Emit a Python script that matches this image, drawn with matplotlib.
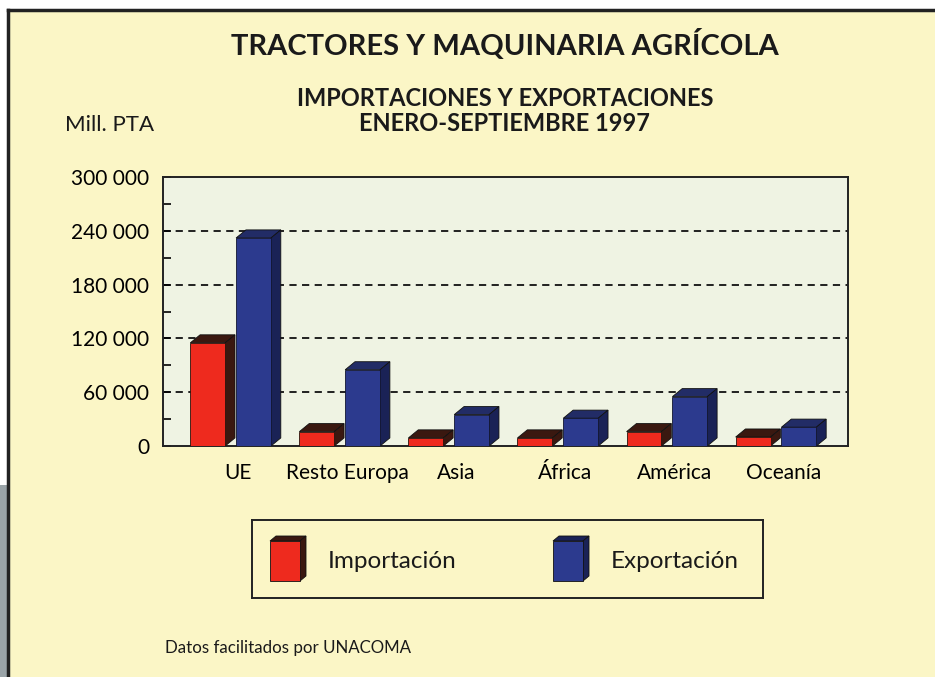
import matplotlib

matplotlib.use("Agg")
import matplotlib.pyplot as plt
from matplotlib.patches import Polygon, Rectangle
from matplotlib.ticker import FuncFormatter, MultipleLocator
import numpy as np

plt.rcParams["font.family"] = ["Lato", "DejaVu Sans"]

# data (Mill. PTA)
regions = ["UE", "Resto Europa", "Asia", "África", "América", "Oceanía"]
importacion = [115000, 16000, 9000, 9000, 16000, 10000]
exportacion = [232000, 85000, 35000, 31000, 55000, 21000]

BG = "#fbf6c6"
PLOT_BG = "#eff3e3"
RED, RED_DARK = "#ee2a1e", "#3a1810"
BLUE, BLUE_SIDE, BLUE_TOP = "#2c3a8e", "#1a2256", "#222c66"

fig = plt.figure(figsize=(9.35, 6.77), dpi=100, facecolor="white")

# yellow page with black frame on top/left
fig.patches.append(Rectangle((8 / 935, 0), 1, 1 - 10 / 677, transform=fig.transFigure,
                             facecolor=BG, edgecolor="none", zorder=-2))
fig.add_artist(plt.Line2D([8 / 935, 1], [1 - 10 / 677] * 2, color="#222", lw=2.5))
fig.add_artist(plt.Line2D([8 / 935] * 2, [0, 1 - 10 / 677], color="#222", lw=2.5))
fig.patches.append(Rectangle((0, 0), 7 / 935, 1 - 485 / 677, transform=fig.transFigure,
                             facecolor="#9aa4a8", edgecolor="none", zorder=-2))

ax = fig.add_axes([163 / 935, 1 - 446 / 677, 685 / 935, 269 / 677])
ax.set_facecolor(PLOT_BG)

x = np.arange(len(regions))
w = 0.32
dx, dy = 0.09, 9000
red_left = x - 0.38
blue_left = x + 0.04


def depth(ax, lefts, heights, side, top):
    for l, h in zip(lefts, heights):
        ax.add_patch(Polygon([(l, h), (l + dx, h + dy), (l + w + dx, h + dy), (l + w, h)],
                             closed=True, facecolor=top, edgecolor="#111", lw=0.6, zorder=3))
        ax.add_patch(Polygon([(l + w, 0), (l + w + dx, dy), (l + w + dx, h + dy), (l + w, h)],
                             closed=True, facecolor=side, edgecolor="#111", lw=0.6, zorder=3))


depth(ax, red_left, importacion, RED_DARK, RED_DARK)
ax.bar(red_left, importacion, width=w, align="edge", color=RED, edgecolor="#2a120a",
       lw=0.6, zorder=4)
depth(ax, blue_left, exportacion, BLUE_SIDE, BLUE_TOP)
ax.bar(blue_left, exportacion, width=w, align="edge", color=BLUE, edgecolor="#111530",
       lw=0.6, zorder=4)

for yv in range(60000, 300000, 60000):
    ax.axhline(yv, color="#111", lw=1.3, ls=(0, (4, 3)), zorder=1)

ax.set_xlim(-0.63, 5.65)
ax.set_ylim(0, 300000)
ax.yaxis.set_major_locator(MultipleLocator(60000))
ax.yaxis.set_minor_locator(MultipleLocator(30000))
ax.yaxis.set_major_formatter(FuncFormatter(lambda v, p: f"{int(v):,}".replace(",", " ")))
ax.tick_params(axis="y", which="both", direction="in", length=6, width=1.2,
               labelsize=15, pad=10)
ax.set_xticks(x + 0.06)
ax.set_xticklabels(regions, fontsize=15)
ax.tick_params(axis="x", length=0, pad=12)
for s in ax.spines.values():
    s.set_linewidth(1.4)
    s.set_color("#222")

fig.text(0.54, 0.934, "TRACTORES Y MAQUINARIA AGRÍCOLA", ha="center", va="center",
         fontsize=21, fontweight="bold", color="#1a1a1a")
fig.text(0.54, 1 - 111 / 677, "IMPORTACIONES Y EXPORTACIONES\nENERO-SEPTIEMBRE 1997",
         ha="center", va="center", fontsize=17, fontweight="bold", color="#1a1a1a",
         linespacing=1.1)
fig.text(65 / 935, 1 - 125 / 677, "Mill. PTA", ha="left", va="center", fontsize=16,
         color="#1a1a1a")
fig.text(165 / 935, 1 - 648 / 677, "Datos facilitados por UNACOMA", ha="left", va="center",
         fontsize=12.2, color="#1a1a1a")

# legend box
lg = fig.add_axes([252 / 935, 1 - 598 / 677, 511 / 935, 78 / 677])
lg.set_xlim(0, 511)
lg.set_ylim(0, 78)
lg.set_facecolor(BG)
lg.set_xticks([])
lg.set_yticks([])
for s in lg.spines.values():
    s.set_linewidth(1.4)
    s.set_color("#222")
for x0, face, side, label in [(18, RED, RED_DARK, "Importación"),
                               (301, BLUE, BLUE_SIDE, "Exportación")]:
    lg.add_patch(Polygon([(x0, 57), (x0 + 6, 62), (x0 + 36, 62), (x0 + 30, 57)],
                         facecolor=side, edgecolor="#111", lw=0.6))
    lg.add_patch(Polygon([(x0 + 30, 17), (x0 + 36, 22), (x0 + 36, 62), (x0 + 30, 57)],
                         facecolor=side, edgecolor="#111", lw=0.6))
    lg.add_patch(Rectangle((x0, 17), 30, 40, facecolor=face, edgecolor="#111", lw=0.6))
    lg.text(x0 + 58, 36, label, ha="left", va="center", fontsize=17.5, color="#1a1a1a")

fig.savefig("out.png", dpi=100, facecolor=fig.get_facecolor())
